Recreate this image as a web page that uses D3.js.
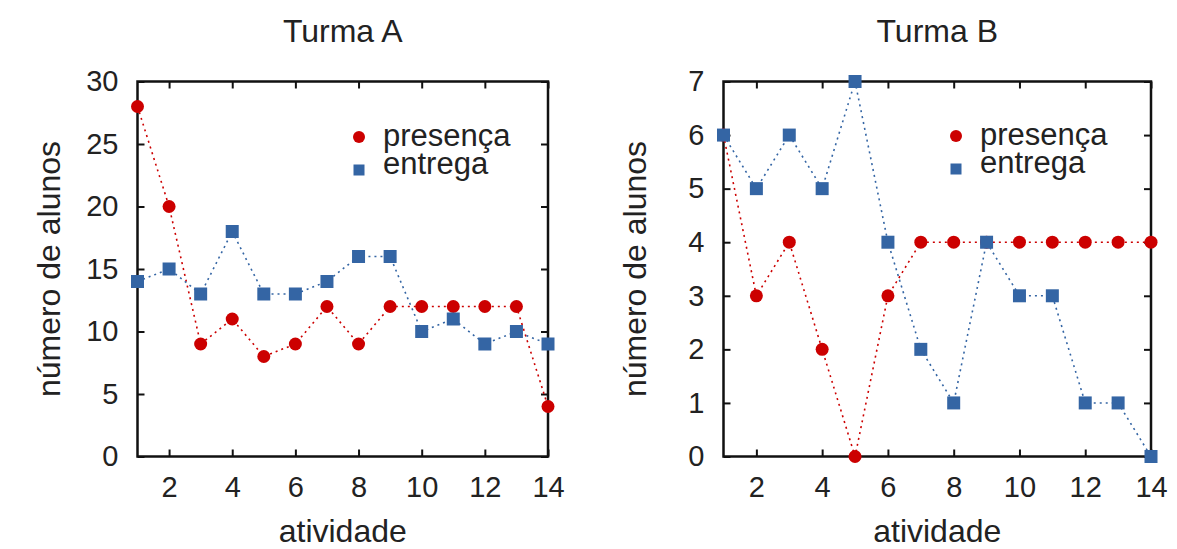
<!DOCTYPE html>
<html>
<head>
<meta charset="utf-8">
<script src="https://cdn.jsdelivr.net/npm/d3@7"></script>
<style>
    body { margin: 0; background: #fff; }
    text { font-family: "Liberation Sans", Arial, sans-serif; fill: #222; }
</style>
</head>
<body>
<svg id="chart" width="1177" height="549"></svg>
<script>
// activities 1..14
var atividades = [1, 2, 3, 4, 5, 6, 7, 8, 9, 10, 11, 12, 13, 14];

// Turma A
var presencaA = [28, 20, 9, 11, 8, 9, 12, 9, 12, 12, 12, 12, 12, 4];
var entregaA = [14, 15, 13, 18, 13, 13, 14, 16, 16, 10, 11, 9, 10, 9];

// Turma B
var presencaB = [6, 3, 4, 2, 0, 3, 4, 4, 4, 4, 4, 4, 4, 4];
var entregaB = [6, 5, 6, 5, 7, 4, 2, 1, 4, 3, 3, 1, 1, 0];

var xTicks = [2, 4, 6, 8, 10, 12, 14];
var yTicksA = [0, 5, 10, 15, 20, 25, 30];
var yTicksB = [0, 1, 2, 3, 4, 5, 6, 7];

var red = '#cc0000';
var blue = '#3465a4';

var svg = d3.select('#chart');

function drawPanel(opts) {
    var x = d3.scaleLinear()
        .domain([1, 14])
        .range([opts.left, opts.right]);

    var y = d3.scaleLinear()
        .domain([0, opts.yMax])
        .range([opts.bottom, opts.top]);

    var g = svg.append('g');
    var tickLen = 7;
    var fmt = d3.format('d');

    // mirrored ticks, pointing inward
    g.append('g')
        .attr('transform', 'translate(0,' + opts.bottom + ')')
        .call(d3.axisBottom(x).tickValues(xTicks).tickSize(-tickLen).tickPadding(20).tickFormat(fmt));

    g.append('g')
        .attr('transform', 'translate(0,' + opts.top + ')')
        .call(d3.axisTop(x).tickValues(xTicks).tickSize(-tickLen).tickFormat(''));

    g.append('g')
        .attr('transform', 'translate(' + opts.left + ',0)')
        .call(d3.axisLeft(y).tickValues(opts.yTicks).tickSize(-tickLen).tickPadding(19).tickFormat(fmt));

    g.append('g')
        .attr('transform', 'translate(' + opts.right + ',0)')
        .call(d3.axisRight(y).tickValues(opts.yTicks).tickSize(-tickLen).tickFormat(''));

    g.selectAll('.domain').remove();
    g.selectAll('.tick line')
        .attr('stroke', '#111')
        .attr('stroke-width', 2);
    g.selectAll('.tick text')
        .style('font-size', '29px')
        .style('fill', '#222');

    // border
    g.append('rect')
        .attr('x', opts.left)
        .attr('y', opts.top)
        .attr('width', opts.right - opts.left)
        .attr('height', opts.bottom - opts.top)
        .attr('fill', 'none')
        .attr('stroke', '#111')
        .attr('stroke-width', 2.5);

    var line = d3.line()
        .x(function(d, i) { return x(atividades[i]); })
        .y(function(d) { return y(d); });

    // presença
    g.append('path')
        .datum(opts.presenca)
        .attr('d', line)
        .attr('fill', 'none')
        .attr('stroke', red)
        .attr('stroke-width', 1.6)
        .attr('stroke-dasharray', '2,4');

    g.selectAll('.pres')
        .data(opts.presenca)
        .enter()
        .append('circle')
        .attr('cx', function(d, i) { return x(atividades[i]); })
        .attr('cy', function(d) { return y(d); })
        .attr('r', 6.5)
        .attr('fill', red);

    // entrega
    g.append('path')
        .datum(opts.entrega)
        .attr('d', line)
        .attr('fill', 'none')
        .attr('stroke', blue)
        .attr('stroke-width', 1.6)
        .attr('stroke-dasharray', '2,4');

    g.selectAll('.entr')
        .data(opts.entrega)
        .enter()
        .append('rect')
        .attr('x', function(d, i) { return x(atividades[i]) - 6.5; })
        .attr('y', function(d) { return y(d) - 6.5; })
        .attr('width', 13)
        .attr('height', 13)
        .attr('fill', blue);

    // title and labels
    g.append('text')
        .attr('x', (opts.left + opts.right) / 2)
        .attr('y', 42)
        .attr('text-anchor', 'middle')
        .style('font-size', '32px')
        .text(opts.title);

    g.append('text')
        .attr('x', (opts.left + opts.right) / 2)
        .attr('y', 542)
        .attr('text-anchor', 'middle')
        .style('font-size', '32px')
        .text('atividade');

    g.append('text')
        .attr('transform', 'translate(' + (opts.left - 78) + ',' + ((opts.top + opts.bottom) / 2) + ') rotate(-90)')
        .attr('text-anchor', 'middle')
        .style('font-size', '32px')
        .text('número de alunos');

    // legend
    var lg = g.append('g')
        .attr('transform', 'translate(' + opts.legendX + ',' + opts.legendY + ')');

    lg.append('circle')
        .attr('cx', 0)
        .attr('cy', 0)
        .attr('r', 6)
        .attr('fill', red);

    lg.append('rect')
        .attr('x', -5.5)
        .attr('y', 27.5)
        .attr('width', 11)
        .attr('height', 11)
        .attr('fill', blue);

    lg.append('text')
        .attr('x', 24)
        .attr('y', 9)
        .style('font-size', '31px')
        .text('presença');

    lg.append('text')
        .attr('x', 24)
        .attr('y', 37)
        .style('font-size', '31px')
        .text('entrega');
}

drawPanel({
    left: 137.5, right: 548, top: 81.5, bottom: 456.5,
    yMax: 30, yTicks: yTicksA,
    presenca: presencaA, entrega: entregaA,
    title: 'Turma A', legendX: 359, legendY: 137
});

drawPanel({
    left: 723.5, right: 1151, top: 81.5, bottom: 456.5,
    yMax: 7, yTicks: yTicksB,
    presenca: presencaB, entrega: entregaB,
    title: 'Turma B', legendX: 956, legendY: 136
});
</script>
</body>
</html>
